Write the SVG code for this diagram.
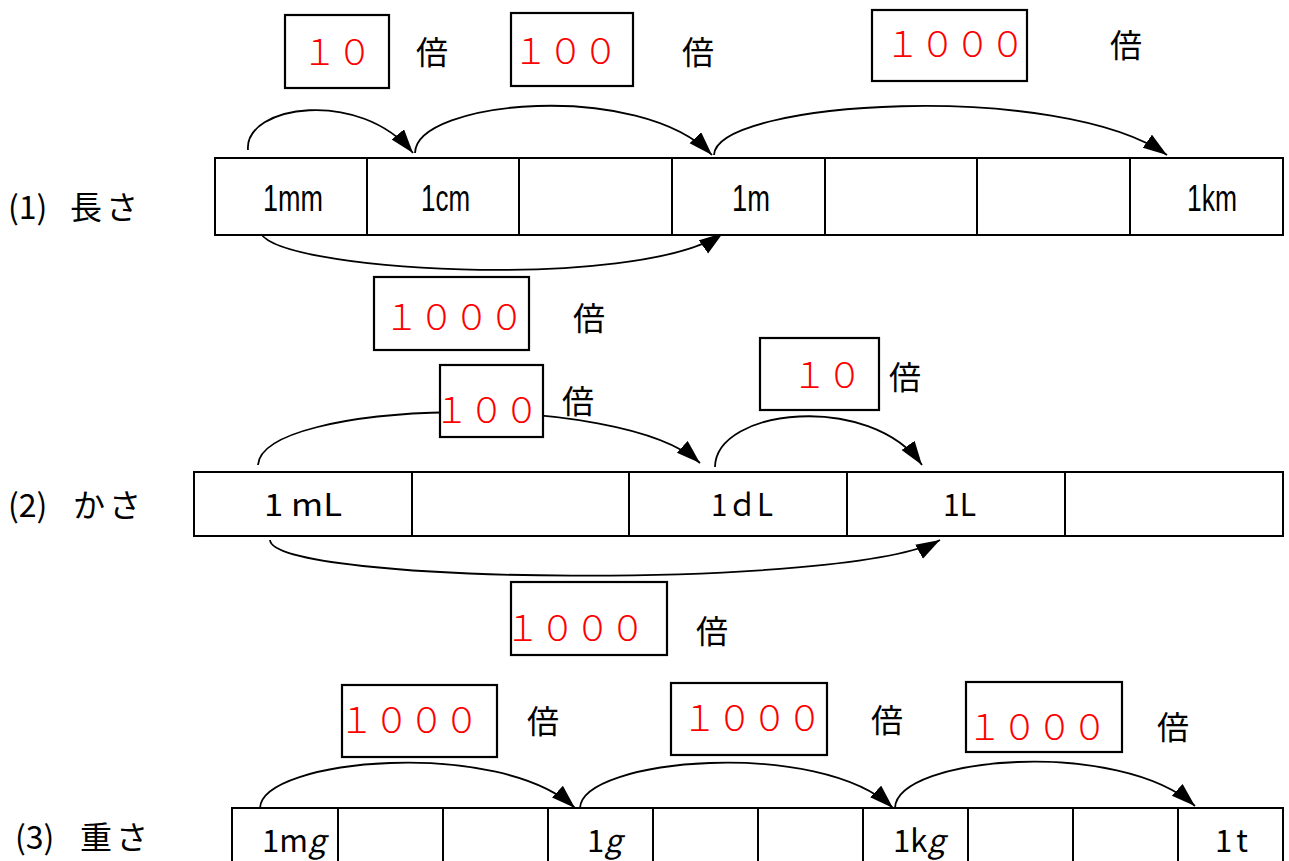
<svg xmlns="http://www.w3.org/2000/svg" width="1289" height="861" viewBox="0 0 1289 861">
<style>
.bar{fill:#fff;stroke:#000;stroke-width:2}
.div{stroke:#000;stroke-width:2}
.box{fill:#fff;stroke:#000;stroke-width:2.2}
.red{fill:#ff0000;font-family:"Noto Sans CJK JP",sans-serif;font-size:35px;font-weight:300}
.bai{fill:#000;font-family:"Noto Sans CJK JP",sans-serif;font-size:32px}
.lbl{fill:#000;font-family:"Noto Sans CJK JP",sans-serif;font-size:32px}
.u1{fill:#000;font-family:"Liberation Sans",sans-serif;font-size:36px}
.u2{fill:#000;font-family:"Noto Sans CJK JP",sans-serif;font-size:31px}
.arc{fill:none;stroke:#000;stroke-width:1.8;marker-end:url(#ah)}
</style>
<defs>
<marker id="ah" markerUnits="userSpaceOnUse" markerWidth="26" markerHeight="18" refX="24" refY="8" orient="auto">
<path d="M0,0 L24,8 L0,16 Z" fill="#000"/>
</marker>
</defs>
<rect width="1289" height="861" fill="#fff"/>

<g id="connectors">
<path class="arc" d="M248,150 C244,105 360,88 413,153"/>
<path class="arc" d="M415,153 C416,100 640,80 712,155"/>
<path class="arc" d="M714,155 C716,100 1060,80 1167,155"/>
<path class="arc" d="M260,230 C262,272 640,292 723,233"/>
<path class="arc" d="M258,465 C262,400 620,390 700,463"/>
<path class="arc" d="M715,467 C716,408 870,392 922,465"/>
<path class="arc" d="M270,540 C272,585 850,590 940,540"/>
<path class="arc" d="M260,808 C262,758 500,738 575,808"/>
<path class="arc" d="M580,808 C582,758 820,738 893,808"/>
<path class="arc" d="M895,808 C897,756 1120,738 1195,806"/>
</g>

<g id="label-1"><text class="lbl" x="8" y="219">(1)</text><text class="lbl" x="70" y="219" letter-spacing="4">長さ</text></g>
<g id="label-2"><text class="lbl" x="8" y="517">(2)</text><text class="lbl" x="73" y="517" letter-spacing="4">かさ</text></g>
<g id="label-3"><text class="lbl" x="15" y="849">(3)</text><text class="lbl" x="80" y="849" letter-spacing="4">重さ</text></g>

<g id="bar-length">
<rect class="bar" x="215" y="158" width="1068" height="77"/>
<line class="div" x1="367" y1="158" x2="367" y2="235"/>
<line class="div" x1="519" y1="158" x2="519" y2="235"/>
<line class="div" x1="672" y1="158" x2="672" y2="235"/>
<line class="div" x1="825" y1="158" x2="825" y2="235"/>
<line class="div" x1="977" y1="158" x2="977" y2="235"/>
<line class="div" x1="1130" y1="158" x2="1130" y2="235"/>
<text class="u1" x="263" y="211" textLength="60" lengthAdjust="spacingAndGlyphs">1mm</text>
<text class="u1" x="421" y="211" textLength="49" lengthAdjust="spacingAndGlyphs">1cm</text>
<text class="u1" x="732" y="211" textLength="38" lengthAdjust="spacingAndGlyphs">1m</text>
<text class="u1" x="1187" y="211" textLength="50" lengthAdjust="spacingAndGlyphs">1km</text>
</g>

<g id="bar-volume">
<rect class="bar" x="194" y="472" width="1089" height="64"/>
<line class="div" x1="412" y1="472" x2="412" y2="536"/>
<line class="div" x1="629" y1="472" x2="629" y2="536"/>
<line class="div" x1="847" y1="472" x2="847" y2="536"/>
<line class="div" x1="1065" y1="472" x2="1065" y2="536"/>
<text class="u2" x="264" y="516" textLength="78" lengthAdjust="spacingAndGlyphs">1 mL</text>
<text class="u2" x="711" y="516" textLength="62" lengthAdjust="spacingAndGlyphs">1ｄL</text>
<text class="u2" x="943" y="516" textLength="33" lengthAdjust="spacingAndGlyphs">1L</text>
</g>

<g id="bar-weight">
<rect class="bar" x="232" y="808" width="1051" height="70"/>
<line class="div" x1="338" y1="808" x2="338" y2="861"/>
<line class="div" x1="443" y1="808" x2="443" y2="861"/>
<line class="div" x1="548" y1="808" x2="548" y2="861"/>
<line class="div" x1="653" y1="808" x2="653" y2="861"/>
<line class="div" x1="758" y1="808" x2="758" y2="861"/>
<line class="div" x1="863" y1="808" x2="863" y2="861"/>
<line class="div" x1="968" y1="808" x2="968" y2="861"/>
<line class="div" x1="1073" y1="808" x2="1073" y2="861"/>
<line class="div" x1="1178" y1="808" x2="1178" y2="861"/>
<text class="u2" x="262" y="852">1m<tspan font-style="italic">g</tspan></text>
<text class="u2" x="587" y="852">1<tspan font-style="italic">g</tspan></text>
<text class="u2" x="893" y="852">1k<tspan font-style="italic">g</tspan></text>
<text class="u2" x="1215" y="852" letter-spacing="4">1t</text>
</g>

<g id="f-10-a"><rect class="box" x="285" y="15" width="104" height="73"/><text class="red" x="302" y="65">１０</text><text class="bai" x="416" y="64">倍</text></g>
<g id="f-100-a"><rect class="box" x="511" y="13" width="122" height="73"/><text class="red" x="513" y="64">１００</text><text class="bai" x="682" y="64">倍</text></g>
<g id="f-1000-a"><rect class="box" x="872" y="10" width="155" height="71"/><text class="red" x="885" y="57">１０００</text><text class="bai" x="1110" y="57">倍</text></g>
<g id="f-1000-b"><rect class="box" x="374" y="277" width="155" height="73"/><text class="red" x="384" y="330">１０００</text><text class="bai" x="573" y="330">倍</text></g>
<g id="f-100-b"><rect class="box" x="440" y="365" width="103" height="72"/><text class="red" x="434" y="423">１００</text><text class="bai" x="562" y="413">倍</text></g>
<g id="f-10-b"><rect class="box" x="760" y="338" width="119" height="72"/><text class="red" x="792" y="388">１０</text><text class="bai" x="889" y="389">倍</text></g>
<g id="f-1000-c"><rect class="box" x="511" y="582" width="156" height="73"/><text class="red" x="505" y="641">１０００</text><text class="bai" x="696" y="643">倍</text></g>
<g id="f-1000-d"><rect class="box" x="342" y="685" width="155" height="72"/><text class="red" x="339" y="733">１０００</text><text class="bai" x="527" y="733">倍</text></g>
<g id="f-1000-e"><rect class="box" x="671" y="683" width="156" height="72"/><text class="red" x="682" y="731">１０００</text><text class="bai" x="871" y="732">倍</text></g>
<g id="f-1000-f"><rect class="box" x="966" y="682" width="156" height="70"/><text class="red" x="967" y="740">１０００</text><text class="bai" x="1157" y="739">倍</text></g>
</svg>
